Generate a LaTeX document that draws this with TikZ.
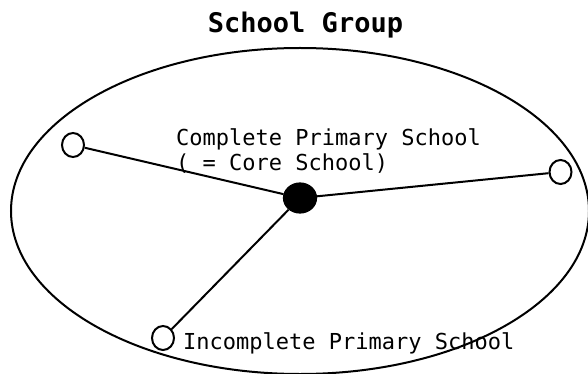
\documentclass[tikz,border=0pt]{standalone}
\usepackage{fontspec}
\newfontfamily\gothic{DejaVu Sans Mono}
\usetikzlibrary{positioning, shapes.geometric}
\tikzset{
	school/.style={ellipse, draw=black, fill=white, line width=2pt, minimum width=22pt, minimum height=24pt, inner sep=0pt},
	core/.style={ellipse, draw=black, fill=black, line width=1.2pt, minimum width=33pt, minimum height=30pt, inner sep=0pt},
	caption/.style={inner sep=0pt, font=\gothic\fontsize{22}{24}\selectfont},
	heading/.style={inner sep=0pt, font=\gothic\bfseries\fontsize{27}{30}\selectfont},
	link/.style={line width=2pt, draw=black},
	group/.style={line width=2pt, draw=black},
}

\begin{document}
\begin{tikzpicture}[x=1pt, y=-1pt]
		\useasboundingbox (0,0) rectangle (588,374);
		\draw[group] (300,211) ellipse [x radius=289, y radius=163];
		\node[heading, anchor=base] (title) at (305.5,33) {School Group};
		\node[core] (core) at (300,198) {};
		\node[school] (west) at (73,145) {};
		\node[school] (east) at (560.5,172) {};
		\node[school] (south) at (163,338) {};
		\draw[link] (west) -- (core);
		\draw[link] (east) -- (core);
		\draw[link] (south) -- (core);
		\node[caption, anchor=base west] (corelabel) at (176,146) {Complete Primary School};
		\node[caption, anchor=base west] (corenote) at (176,170) {( = Core School)};
		\node[caption, anchor=base west] (southlabel) at (183,349) {Incomplete Primary School};
	\end{tikzpicture}
\end{document}
